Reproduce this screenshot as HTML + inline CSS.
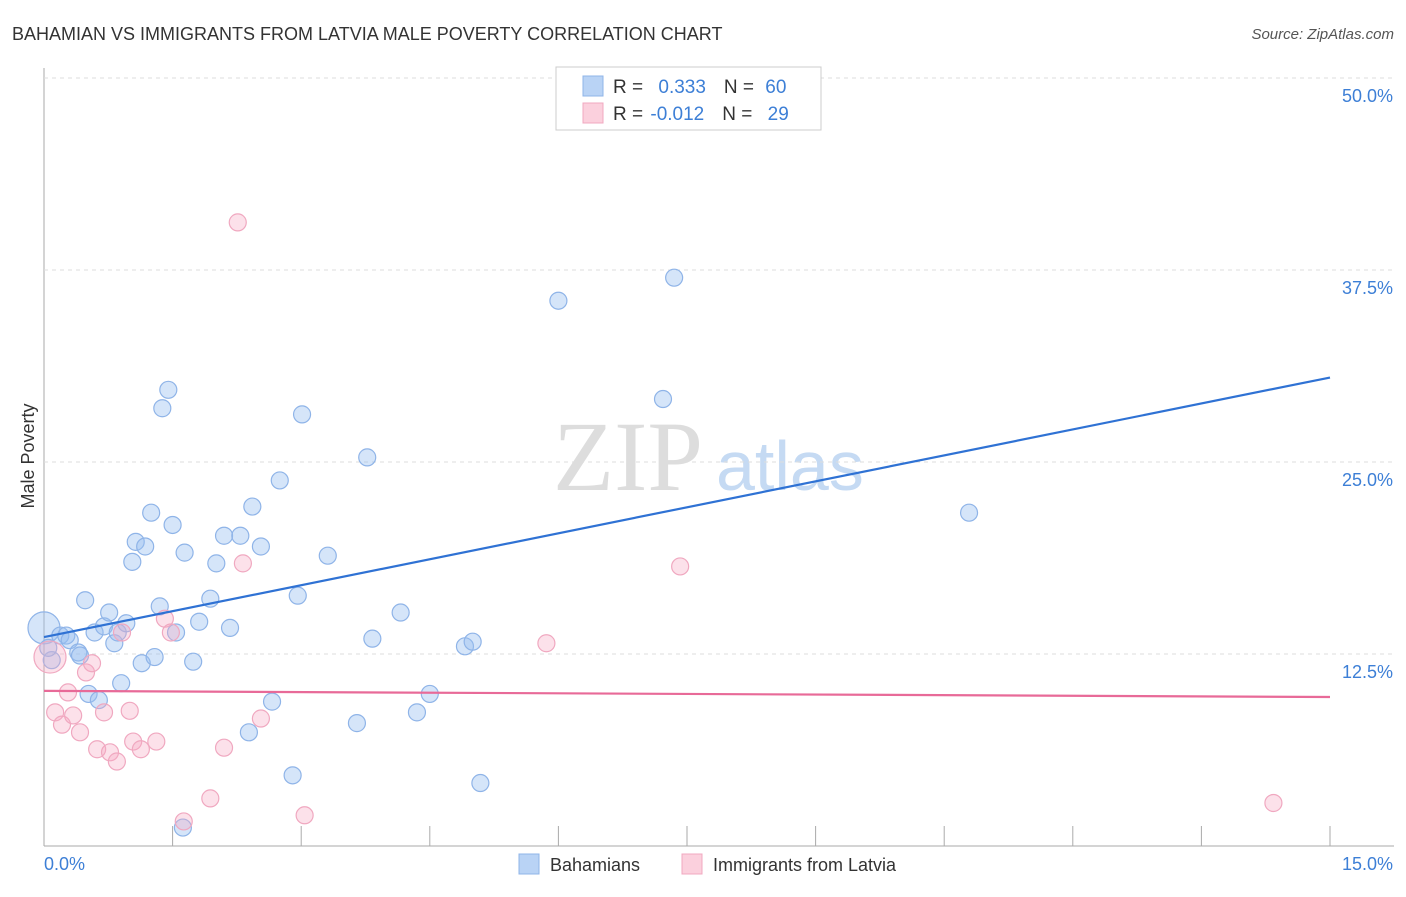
<!DOCTYPE html>
<html><head><meta charset="utf-8"><style>
body{margin:0;background:#fff;font-family:"Liberation Sans",sans-serif}
</style></head><body>
<svg width="1406" height="892" id="chart" font-family="Liberation Sans, sans-serif">
<text x="12" y="40" font-size="18" fill="#333">BAHAMIAN VS IMMIGRANTS FROM LATVIA MALE POVERTY CORRELATION CHART</text>
<text x="1394" y="39" font-size="15" fill="#555" font-style="italic" text-anchor="end">Source: ZipAtlas.com</text>
<text x="34" y="456" font-size="18" fill="#333" transform="rotate(-90 34 456)" text-anchor="middle">Male Poverty</text>
<text x="553" y="490" font-size="100" fill="#ddd" font-family="Liberation Serif, serif">ZIP</text>
<text x="716" y="490" font-size="70" fill="#c5daf3">atlas</text>
<g id="grid"></g><g id="marks"></g>
<g>
<rect x="556" y="67" width="265" height="63" fill="#fff" stroke="#ccc"/>
<rect x="583" y="76" width="20" height="20" fill="#b9d3f5" stroke="#8fb4e8"/>
<rect x="583" y="103" width="20" height="20" fill="#fbd0dd" stroke="#f0a8c0"/>
<text x="613" y="93" font-size="19" fill="#333">R = <tspan fill="#3d7fd6" dx="10">0.333</tspan><tspan dx="18">N = </tspan><tspan fill="#3d7fd6" dx="6">60</tspan></text>
<text x="613" y="120" font-size="19" fill="#333">R = <tspan fill="#3d7fd6" dx="2">-0.012</tspan><tspan dx="18">N = </tspan><tspan fill="#3d7fd6" dx="10">29</tspan></text>
</g>
<g>
<rect x="519" y="854" width="20" height="20" fill="#b9d3f5" stroke="#8fb4e8"/>
<text x="550" y="871" font-size="18" fill="#333">Bahamians</text>
<rect x="682" y="854" width="20" height="20" fill="#fbd0dd" stroke="#f0a8c0"/>
<text x="713" y="871" font-size="18" fill="#333">Immigrants from Latvia</text>
</g>
</svg>
<script>
const yTicks=[12.5,25,37.5,50];
const yTickLabels=["12.5%","25.0%","37.5%","50.0%"];
const blueX=[0,.19,.26,.30,.40,.42,.48,.59,.70,.76,.82,.86,.90,.96,.52,.64,1.03,1.07,1.18,1.25,1.35,1.38,1.45,1.50,1.54,1.14,1.29,1.64,1.74,1.81,1.94,2.01,2.10,2.17,2.29,2.39,2.43,2.53,2.66,2.75,2.90,2.96,3.01,3.31,3.77,3.65,3.83,4.16,4.35,4.50,4.91,5.00,5.09,6.00,7.22,7.35,10.79,1.62,.09,.05];
const blueY=[14.2,13.7,13.7,13.4,12.6,12.4,16.0,13.9,14.3,15.2,13.2,13.9,10.6,14.5,9.9,9.5,18.5,19.8,19.5,21.7,15.6,28.5,29.7,20.9,13.9,11.9,12.3,19.1,12.0,14.6,16.1,18.4,20.2,14.2,20.2,7.4,22.1,19.5,9.4,23.8,4.6,16.3,28.1,18.9,25.3,8.0,13.5,15.2,8.7,9.9,13.0,13.3,4.1,35.5,29.1,37.0,21.7,1.2,12.1,12.9];
const pinkX=[.07,.13,.21,.28,.34,.42,.49,.56,.62,.70,.77,.85,.91,1.00,1.04,1.13,1.31,1.41,1.48,1.63,1.94,2.10,2.26,2.32,2.53,3.04,5.86,7.42,14.34];
const pinkY=[12.3,8.7,7.9,10.0,8.5,7.4,11.3,11.9,6.3,8.7,6.1,5.5,13.9,8.8,6.8,6.3,6.8,14.8,13.9,1.6,3.1,6.4,40.6,18.4,8.3,2.0,13.2,18.2,2.8];
const blueTrend=[13.6,30.5];
const pinkTrend=[10.1,9.7];
const X0=44,X1=1330,Y0=846,PY=15.36;
const sx=v=>X0+(X1-X0)*v/15, sy=v=>Y0-v*PY;
const NS="http://www.w3.org/2000/svg";
const grid=document.getElementById('grid'),marks=document.getElementById('marks');
function mk(tag,at,parent){const e=document.createElementNS(NS,tag);for(const k in at)e.setAttribute(k,at[k]);parent.appendChild(e);return e;}
let ax=mk('line',{x1:44,y1:68,x2:44,y2:846,stroke:'#aaa'},grid);


let bx=mk('line',{x1:44,y1:846,x2:1394,y2:846,stroke:'#aaa'},grid);


yTicks.forEach((t,i)=>{
 let l=mk('line',{x1:44,x2:1394,y1:sy(t),y2:sy(t),stroke:'#ddd','stroke-dasharray':'4,4'},grid);
 
 
 let tx=mk('text',{x:1393,y:sy(t)+24,'font-size':18,fill:'#3d7fd6','text-anchor':'end'},grid);
 tx.textContent=yTickLabels[i];
 
 
});
for(let i=0;i<=10;i++){
 let l=mk('line',{x1:sx(i*1.5),x2:sx(i*1.5),y1:826,y2:846,stroke:'#aaa'},grid);
 
 
}
let t0=mk('text',{x:44,y:870,'font-size':18,fill:'#3d7fd6'},grid);t0.textContent='0.0%';


let t1=mk('text',{x:1393,y:870,'font-size':18,fill:'#3d7fd6','text-anchor':'end'},grid);t1.textContent='15.0%';


function pts(xs,ys,fill,stroke,name){xs.forEach((x,i)=>{
 let c=mk('circle',{cx:sx(x),cy:sy(ys[i]),r:i==0?16:8.5,fill:fill,stroke:stroke,'stroke-width':1.2},marks);
 
 
});}
pts(blueX,blueY,'rgba(150,190,240,0.4)','#8fb4e8','bahamian-point');
pts(pinkX,pinkY,'rgba(245,170,195,0.35)','#f0a8c0','latvia-point');
let bl=mk('line',{x1:sx(0),y1:sy(blueTrend[0]),x2:sx(15),y2:sy(blueTrend[1]),stroke:'#2f72d4','stroke-width':2.2},marks);


let pl=mk('line',{x1:sx(0),y1:sy(pinkTrend[0]),x2:sx(15),y2:sy(pinkTrend[1]),stroke:'#e86a98','stroke-width':2.2},marks);


</script>
</body></html>
